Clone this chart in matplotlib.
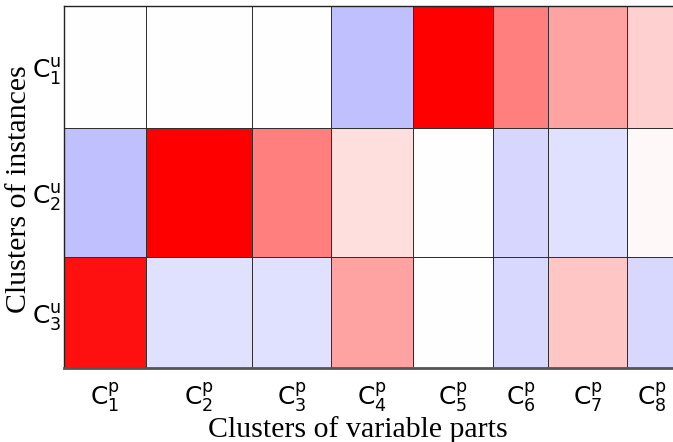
import numpy as np
import matplotlib
matplotlib.use("Agg")
import matplotlib.pyplot as plt

# cluster sizes (widths / heights of the blocks)
COL_SIZES = [82, 106, 79, 82, 80, 55, 79, 50]
ROW_SIZES = [122, 129, 111]

COL_LABELS = [r"$\mathrm{C}^{\mathrm{p}}_{\mathrm{%d}}$" % i for i in range(1, 9)]
ROW_LABELS = [r"$\mathrm{C}^{\mathrm{u}}_{\mathrm{%d}}$" % i for i in range(1, 4)]

# block values (negative = blue, positive = red)
ROW1 = [0.00, 0.00, 0.00, -0.25, 1.00, 0.50, 0.36, 0.18]
ROW2 = [-0.25, 1.00, 0.50, 0.13, 0.00, -0.16, -0.12, 0.03]
ROW3 = [0.93, -0.12, -0.12, 0.36, 0.00, -0.15, 0.22, -0.15]

plt.rcParams["mathtext.fontset"] = "dejavusans"

W, H = 673, 442
fig = plt.figure(figsize=(W / 100, H / 100), dpi=100)

left, top = 64, 6
tot_w = sum(COL_SIZES)
tot_h = sum(ROW_SIZES)
ax = fig.add_axes([left / W, (H - top - tot_h) / H, tot_w / W, tot_h / H])

xe = np.concatenate([[0], np.cumsum(COL_SIZES)])
ye = np.concatenate([[0], np.cumsum(ROW_SIZES)])
vals = np.array([ROW1, ROW2, ROW3])

ax.pcolormesh(xe, ye, vals, cmap="bwr", vmin=-1, vmax=1,
              edgecolors="#303030", linewidth=0.7)
ax.set_xlim(0, tot_w)
ax.set_ylim(tot_h, 0)

xc = (xe[:-1] + xe[1:]) / 2
yc = (ye[:-1] + ye[1:]) / 2
ax.set_xticks(xc)
ax.set_xticklabels(COL_LABELS, fontsize=18)
ax.set_yticks(yc)
ax.set_yticklabels(ROW_LABELS, fontsize=18)
ax.tick_params(length=0)
ax.tick_params(axis="x", pad=9)
ax.tick_params(axis="y", pad=2)

for s in ax.spines.values():
    s.set_linewidth(1.0)
    s.set_color("#222222")
ax.spines["right"].set_visible(False)
ax.spines["bottom"].set_linewidth(2.0)
ax.spines["bottom"].set_color("#555555")

ax.set_xlabel("Clusters of variable parts", family="Liberation Serif",
              fontsize=21.5)
ax.xaxis.set_label_coords((358 - left) / tot_w, -(416 - top - tot_h) / tot_h)
ax.set_ylabel("Clusters of instances", family="Liberation Serif",
              fontsize=21.5)
ax.yaxis.set_label_coords(-(left - 32) / tot_w, 0.495)

fig.savefig("out.png", dpi=100)
